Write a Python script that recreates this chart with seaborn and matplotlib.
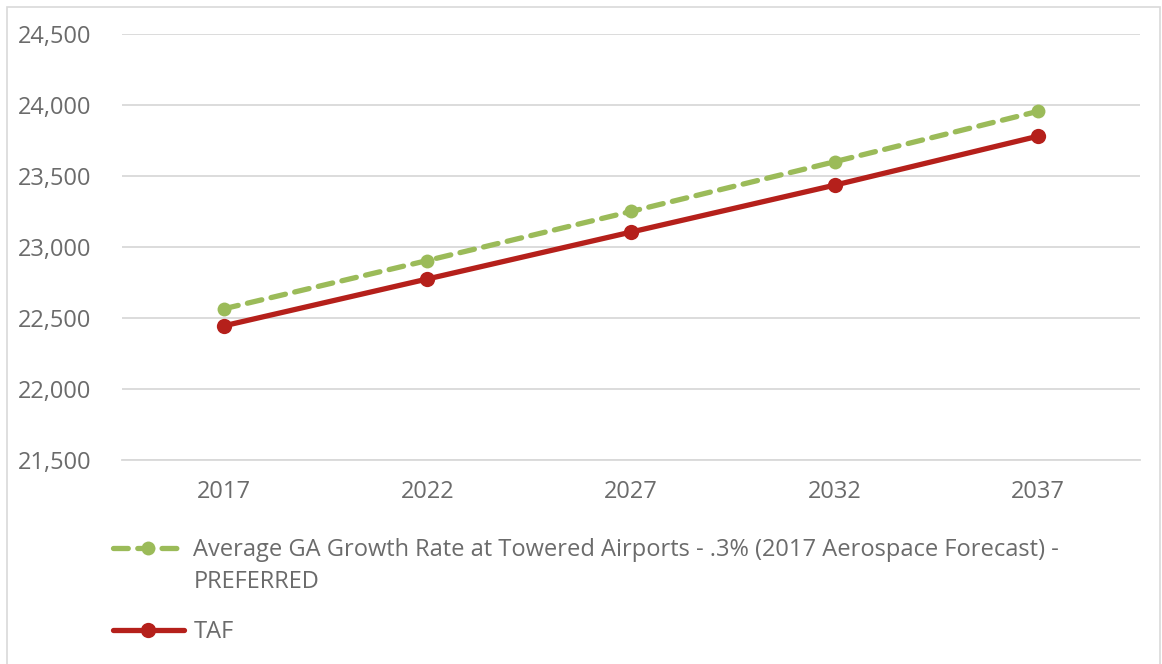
import matplotlib
matplotlib.use("Agg")
import matplotlib.pyplot as plt
import seaborn as sns
import pandas as pd
from matplotlib.patches import Rectangle

years = ["2017", "2022", "2027", "2032", "2037"]
preferred = [22565, 22905, 23250, 23600, 23955]
taf = [22445, 22775, 23105, 23435, 23780]
preferred_label = "Average GA Growth Rate at Towered Airports - .3% (2017 Aerospace Forecast) -"
preferred_label_2 = "PREFERRED"
taf_label = "TAF"
yticks = [21500, 22000, 22500, 23000, 23500, 24000, 24500]

sns.set_style("white")
plt.rcParams["font.family"] = ["Open Sans", "DejaVu Sans"]

green = "#9BBB59"
red = "#B5201B"
text_grey = "#6B6B6B"

W, H = 1162, 664
fig = plt.figure(figsize=(W / 100, H / 100), dpi=100)
ax = fig.add_axes([0.105, 0.307, 0.876, 0.642])

df_pref = pd.DataFrame({"year": years, "value": preferred})
df_taf = pd.DataFrame({"year": years, "value": taf})

sns.lineplot(data=df_pref, x="year", y="value", ax=ax, color=green, linewidth=3.8,
             linestyle=(0, (2.8, 1.8)), dash_capstyle="round", marker="o", markersize=10,
             markeredgewidth=0, label=preferred_label, zorder=3)
sns.lineplot(data=df_taf, x="year", y="value", ax=ax, color=red, linewidth=3.8,
             solid_capstyle="round", marker="o", markersize=11, markeredgewidth=0,
             label=taf_label, zorder=4)

ax.set_xlim(-0.5, 4.5)
ax.set_ylim(21500, 24500)
ax.set_yticks(yticks)
ax.set_yticklabels([f"{v:,}" for v in yticks])
ax.yaxis.grid(True, color="#D9D9D9", linewidth=1.3)
ax.set_axisbelow(True)
for s in ["top", "right", "left"]:
    ax.spines[s].set_visible(False)
ax.spines["bottom"].set_color("#D9D9D9")
ax.spines["bottom"].set_linewidth(1.3)
ax.tick_params(axis="both", labelsize=17, colors=text_grey, length=0)
ax.tick_params(axis="y", pad=22)
ax.tick_params(axis="x", pad=14)
ax.set_xlabel("")
ax.set_ylabel("")

handles, labels = ax.get_legend_handles_labels()
ax.get_legend().remove()

# legend below the plot: one block per series so the handle sits on the first text line
leg_kw = dict(loc="center left", frameon=False, fontsize=17, labelcolor=text_grey,
              handlelength=3.0, handletextpad=0.4, borderpad=0, borderaxespad=0)
leg1 = fig.legend([handles[0]], [labels[0]], bbox_to_anchor=(113 / W, 1 - 550 / H), **leg_kw)
leg2 = fig.legend([handles[1]], [labels[1]], bbox_to_anchor=(113 / W, 1 - 632 / H), **leg_kw)

fig.canvas.draw()
bb = leg1.get_texts()[0].get_window_extent()
fig.text(bb.x0 / W, 1 - 582 / H, preferred_label_2, fontsize=17, color=text_grey,
         ha="left", va="center")

fig.patches.append(Rectangle((0.006, -0.01), 0.992, 1.0, transform=fig.transFigure,
                             fill=False, edgecolor="#D9D9D9", linewidth=1.2))

fig.savefig("out.png", dpi=100)
